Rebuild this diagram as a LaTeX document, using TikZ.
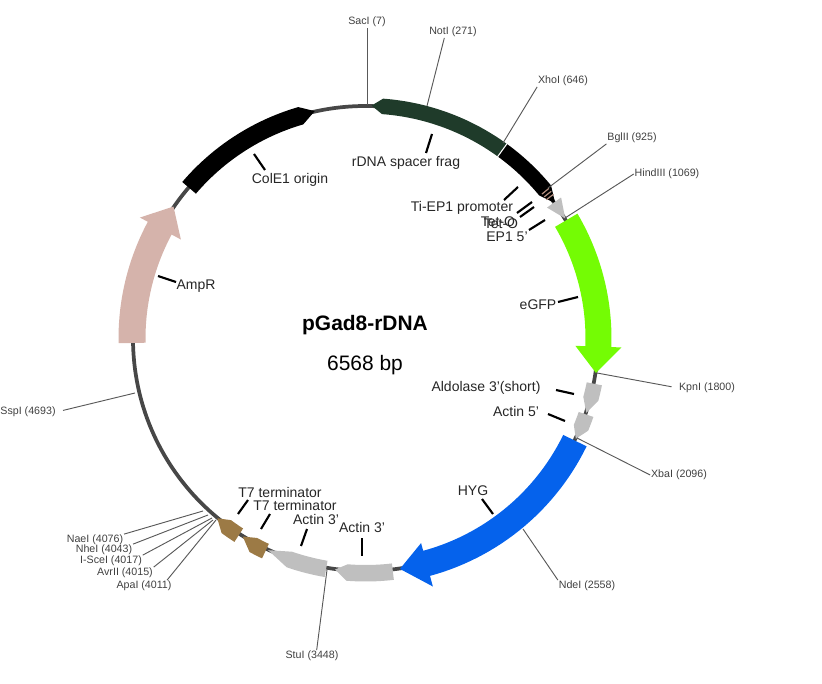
\documentclass[tikz,border=0pt]{standalone}
\usepackage{fontspec}
\setmainfont{Liberation Sans}
\usepackage{xcolor}
\usepackage{tikz}
\usetikzlibrary{positioning}

\definecolor{spacergreen}{HTML}{1F3B2A}
\definecolor{gfpgreen}{HTML}{74FC04}
\definecolor{hygblue}{HTML}{0562EC}
\definecolor{ampcolor}{HTML}{D5B3AB}
\definecolor{termbrown}{HTML}{9C7A45}
\definecolor{partgrey}{HTML}{BFBFBF}
\definecolor{stripepink}{HTML}{B58F80}

% colour, start, shoulder, tip (bearings), inner, outer, wing inner, wing outer
\newcommand{\feature}[8]{
  \fill[#1] (#2-90:#5) -- plot[domain=#2:#3,samples=30] (\x-90:#5) -- (#3-90:#7)
    -- (#4-90:233) -- (#3-90:#8) -- plot[domain=#3:#2,samples=30] (\x-90:#6) -- cycle;
}

\begin{document}
\begin{tikzpicture}[
  x=0.75pt, y=-0.75pt,
  site/.style={draw=black!65, line width=0.7pt},
  tick/.style={draw=black, line width=1.6pt},
  sitelabel/.style={font=\fontsize{8}{9}\selectfont, text=black!75, inner sep=0.5pt},
  partlabel/.style={font=\fontsize{10.5}{12}\selectfont, text=black!85, inner sep=0.5pt},
  backbone/.style={draw=black!72, line width=2.8pt}
]
\useasboundingbox (0,0) rectangle (822,684);

% Backbone
\begin{scope}[shift={(365.5,338.5)}]
\draw[backbone] (0,0) circle[radius=232.5];

% Features
\feature{spacergreen}{36}{4.2}{1.5}{225}{240.5}{225}{240.5}
\feature{black}{36}{50.5}{54.5}{225}{240.5}{225}{240.5}
\foreach \b in {50.7,51.6,52.5}
  \draw[stripepink, line width=0.9pt] (\b-90:228) -- (\b-90:237);
\draw[white, line width=0.8pt] (36-90:224.5) -- (36-90:241);
\feature{partgrey}{54.2}{54.3}{59}{224}{241}{224}{241}
\feature{gfpgreen}{59.5}{92}{98.5}{220}{246}{210}{256}
\feature{partgrey}{101.2}{105}{108.6}{225.5}{241}{225.5}{241}
\feature{partgrey}{109}{112.5}{115.5}{225.5}{241}{225.5}{241}
\feature{hygblue}{116}{164.8}{171.5}{220}{246}{212}{257}
\feature{partgrey}{173.3}{184.5}{187.5}{226.5}{243}{226.5}{243}
\feature{partgrey}{189.7}{199}{204.7}{225.5}{242}{225.5}{242}
\feature{termbrown}{205.2}{208.5}{211.8}{227}{243}{227}{243}
\feature{termbrown}{212.8}{216.5}{219.5}{226}{242}{226}{242}
\feature{ampcolor}{268.9}{298.2}{304.5}{220}{247}{209.5}{256}
\feature{black}{310.5}{343.8}{347.4}{223}{241}{223}{241}
\end{scope}

% Title
\node[font=\bfseries\fontsize{15.7}{18}\selectfont] (plasmid) at (365,325) {pGad8-rDNA};
\node[font=\fontsize{15.7}{18}\selectfont] (size) at (365,365) {6568 bp};

% Restriction sites
\node[sitelabel] (sacI) at (367,22) {SacI (7)};
\node[sitelabel] (notI) at (453,32) {NotI (271)};
\node[sitelabel] (xhoI) at (563,81) {XhoI (646)};
\node[sitelabel] (bglII) at (632,138) {BglII (925)};
\node[sitelabel] (hindIII) at (667,174) {HindIII (1069)};
\node[sitelabel] (kpnI) at (707,388) {KpnI (1800)};
\node[sitelabel] (xbaI) at (679,475) {XbaI (2096)};
\node[sitelabel] (ndeI) at (587,586) {NdeI (2558)};
\node[sitelabel] (stuI) at (312,656) {StuI (3448)};
\node[sitelabel] (apaI) at (144,586) {ApaI (4011)};
\node[sitelabel] (avrII) at (125,573) {AvrII (4015)};
\node[sitelabel] (isceI) at (111,561) {I-SceI (4017)};
\node[sitelabel] (nheI) at (104,550) {NheI (4043)};
\node[sitelabel] (naeI) at (95,540) {NaeI (4076)};
\node[sitelabel] (sspI) at (28,412) {SspI (4693)};

\coordinate (sacIcut) at (367,105);
\coordinate (notIcut) at (427,106);
\coordinate (xhoIcut) at (503,143);
\coordinate (bglIIcut) at (548,188);
\coordinate (hindIIIcut) at (565,218);
\coordinate (kpnIcut) at (597,373);
\coordinate (xbaIcut) at (577,438);
\coordinate (ndeIcut) at (523,529);
\coordinate (stuIcut) at (327,570);
\coordinate (apaIcut) at (216,520);
\coordinate (avrIIcut) at (213,520);
\coordinate (isceIcut) at (212,518);
\coordinate (nheIcut) at (208,515);
\coordinate (naeIcut) at (203,511);
\coordinate (sspIcut) at (135,393);

\draw[site] (sacIcut) -- (sacI.south);
\draw[site] (notIcut) -- ([xshift=-6.5pt]notI.south);
\draw[site] (xhoIcut) -- (xhoI.south west);
\draw[site] (bglIIcut) -- (bglII.south west);
\draw[site] (hindIIIcut) -- (hindIII.west);
\draw[site, shorten >=5pt] (kpnIcut) -- (kpnI.west);
\draw[site] (xbaIcut) -- (xbaI.west);
\draw[site] (ndeIcut) -- (ndeI.north west);
\draw[site] (stuIcut) -- ([xshift=3.5pt]stuI.north);
\draw[site] (apaIcut) -- ([xshift=-4pt]apaI.north east);
\draw[site] (avrIIcut) -- (avrII.north east);
\draw[site] (isceIcut) -- (isceI.north east);
\draw[site] (nheIcut) -- (nheI.north east);
\draw[site] (naeIcut) -- (naeI.north east);
\draw[site, shorten >=5pt] (sspIcut) -- (sspI.east);

% Feature labels
\node[partlabel] (spacerlabel) at (406,163) {rDNA spacer frag};
\node[partlabel] (originlabel) at (290,180) {ColE1 origin};
\node[partlabel] (promoterlabel) at (462,208) {Ti-EP1 promoter};
\node[partlabel] (tetlabela) at (498,222) {Tet-O};
\node[partlabel] (tetlabelb) at (501,224) {Tet-O};
\node[partlabel] (eplabel) at (507,237) {EP1 5'};
\node[partlabel] (gfplabel) at (538,305) {eGFP};
\node[partlabel] (aldolaselabel) at (486,388) {Aldolase 3'(short)};
\node[partlabel] (actinfivelabel) at (516,411) {Actin 5'};
\node[partlabel] (hyglabel) at (473,491) {HYG};
\node[partlabel] (actinlabela) at (362,527) {Actin 3'};
\node[partlabel] (actinlabelb) at (316,519) {Actin 3'};
\node[partlabel] (termlabela) at (295,505) {T7 terminator};
\node[partlabel] (termlabelb) at (280,492) {T7 terminator};
\node[partlabel] (amplabel) at (196,286) {AmpR};

% Ticks
\coordinate (spacera) at (432,134); \coordinate (spacerb) at (426,153);
\coordinate (origina) at (254,154); \coordinate (originb) at (265,170);
\coordinate (promotera) at (518,187); \coordinate (promoterb) at (504,200);
\coordinate (teta) at (532,202); \coordinate (tetb) at (517,213);
\coordinate (tetc) at (534,207); \coordinate (tetd) at (520,217);
\coordinate (epa) at (545,220); \coordinate (epb) at (529,230);
\coordinate (gfpa) at (578,297); \coordinate (gfpb) at (558,302);
\coordinate (aldolasea) at (556,390); \coordinate (aldolaseb) at (574,394);
\coordinate (actinfivea) at (548,414); \coordinate (actinfiveb) at (565,421);
\coordinate (hyga) at (482,499); \coordinate (hygb) at (493,514);
\coordinate (actina) at (362,538); \coordinate (actinb) at (362,556);
\coordinate (actinc) at (307,529); \coordinate (actind) at (301,546);
\coordinate (terma) at (270,514); \coordinate (termb) at (261,529);
\coordinate (termc) at (248,500); \coordinate (termd) at (238,514);
\coordinate (ampa) at (158,276); \coordinate (ampb) at (176,282);

\foreach \a/\b in {spacera/spacerb, origina/originb, promotera/promoterb, teta/tetb, tetc/tetd,
  epa/epb, gfpa/gfpb, aldolasea/aldolaseb, actinfivea/actinfiveb, hyga/hygb,
  actina/actinb, actinc/actind, terma/termb, termc/termd, ampa/ampb}
  \draw[tick] (\a) -- (\b);

\end{tikzpicture}
\end{document}
